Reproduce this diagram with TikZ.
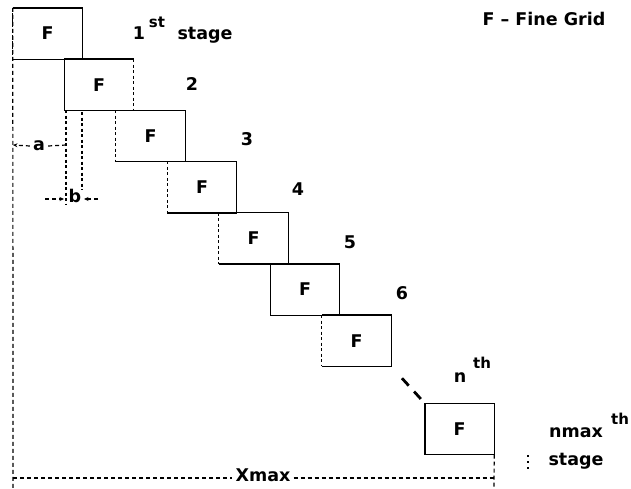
\documentclass[tikz,border=0pt]{standalone}
\usepackage{fontspec}
\setmainfont{DejaVu Sans}
\usetikzlibrary{arrows.meta}
\newcommand{\lbl}{\fontsize{17.5}{19}\selectfont\bfseries}
\newcommand{\suplbl}{\fontsize{15}{16}\selectfont\bfseries}
\begin{document}
\begin{tikzpicture}[x=1pt,y=-1pt,
  gridbox/.style={minimum width=69pt,minimum height=51pt,inner sep=0pt,font=\lbl},
  txt/.style={inner sep=0pt,anchor=base,font=\lbl},
  suptxt/.style={inner sep=0pt,anchor=base,font=\suplbl},
  solidedge/.style={line width=1.4pt},
  dashedge/.style={line width=1.1pt,dash pattern=on 3pt off 2.5pt},
  dimline/.style={line width=1.2pt,dash pattern=on 4pt off 3pt},
  tip/.style={-{Stealth[length=4.5pt,width=4pt]}}
]
\useasboundingbox (0,0) rectangle (631,488);

% boxes
\foreach \i/\nm in {0/b1,1/b2,2/b3,3/b4,4/b5,5/b6,6/b7}{
  \node[gridbox] (\nm) at ({47.5+51.5*\i},{33.5+51.2*\i}) {F};
}
\node[gridbox] (bn) at (459.5,429) {F};

% edges: top, right, bottom solid
\foreach \nm in {b1,b3,b4,b5,b7}{
  \draw[solidedge] (\nm.south west) -- (\nm.south east) -- (\nm.north east) -- (\nm.north west);
  \draw[dashedge] (\nm.north west) -- (\nm.south west);
}
\foreach \nm in {b6,bn}{
  \draw[solidedge] (\nm.north west) rectangle (\nm.south east);
}
\draw[solidedge] (b2.north east) -- (b2.north west) -- (b2.south west) -- (b2.south east);
\draw[dashedge] (b2.north east) -- (b2.south east);

% connector between stage 7 and nmax stage
\draw[line width=2.8pt,dash pattern=on 10pt off 8pt,shorten <=16pt,shorten >=4pt]
  (b7.south east) -- (bn.north west);

% stage labels
\node[txt] (s1) at (139,39) {1};
\node[suptxt] (s1sup) at (157,27) {st};
\node[txt] (s1stage) at (205,39) {stage};
\node[txt] (s2) at (192,90) {2};
\node[txt] (s3) at (247,145) {3};
\node[txt] (s4) at (298,195) {4};
\node[txt] (s5) at (350,248) {5};
\node[txt] (s6) at (402,299) {6};
\node[txt] (sn) at (460,382) {n};
\node[suptxt] (snsup) at (482,368) {th};
\node[txt] (snmax) at (576,437) {nmax};
\node[suptxt] (snmaxsup) at (620,424) {th};
\node[txt] (snstage) at (576,465) {stage};
\node[txt] (legend) at (544,25) {F – Fine Grid};

% colon-like dotted mark
\coordinate (c1) at (528,455);
\coordinate (c2) at (528,471);
\draw[line width=1.2pt,dash pattern=on 2pt off 4pt] (c1) -- (c2);

% outer dashed frame
\coordinate (leftbot) at (13,488);
\coordinate (xl) at (13,478);
\coordinate (xr) at (494,478);
\coordinate (rightbot) at (494,488);
\draw[dimline] (b1.north west) -- (leftbot);
\node[txt] (xmax) at (263,481) {Xmax};
\draw[dimline] (xl) -- ([xshift=-3pt]xmax.west |- xl);
\draw[dimline] ([xshift=3pt]xmax.east |- xr) -- (xr);
\draw[dimline] (bn.south east) -- (rightbot);

% dimension a
\coordinate (aL) at (13,145);
\coordinate (aR) at (66,145);
\node[txt,anchor=center] (alab) at (39,146) {a};
\draw[dimline,tip] ([xshift=-3pt]alab.west) -- (aL);
\draw[dimline] ([xshift=3pt]alab.east) -- (aR);

% extension lines
\coordinate (e1t) at (66,110);
\coordinate (e1b) at (66,205);
\coordinate (e2t) at (82,112);
\coordinate (e2b) at (82,190);
\draw[dashedge] (e1t) -- (e1b);
\draw[dashedge] (e2t) -- (e2b);

% dimension b
\node[txt,anchor=center] (blab) at (75,196) {b};
\coordinate (bL0) at (45,199);
\coordinate (bL1) at (64,199);
\coordinate (bR0) at (98,199);
\coordinate (bR1) at (84,199);
\draw[dimline,tip] (bL0) -- (bL1);
\draw[dimline,tip] (bR0) -- (bR1);
\end{tikzpicture}
\end{document}
